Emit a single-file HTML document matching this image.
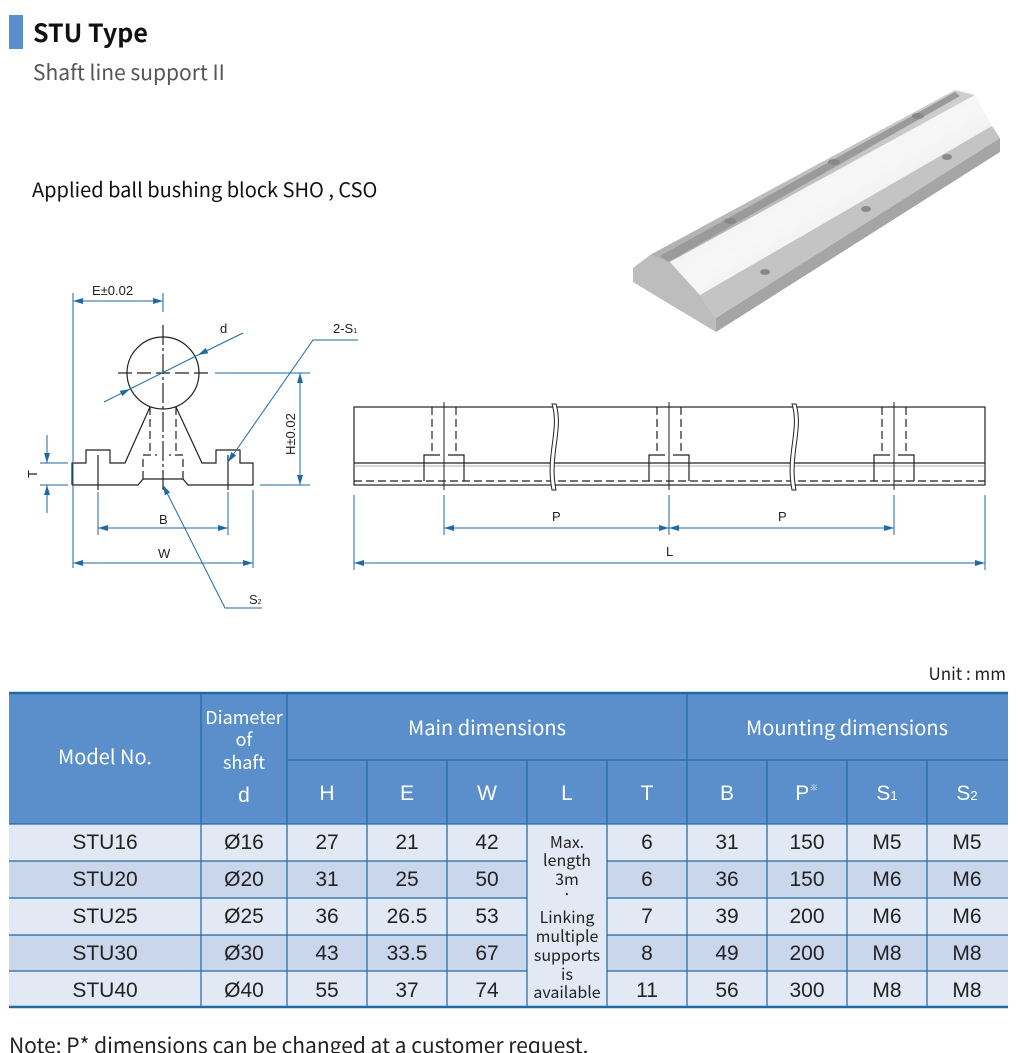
<!DOCTYPE html>
<html><head><meta charset="utf-8">
<style>
html,body{margin:0;padding:0;background:#fff;}
svg{display:block;}
.t{font-family:"Noto Sans CJK KR","Liberation Sans",sans-serif;}
.n{font-family:"Liberation Sans","NanumGothic",sans-serif;}
</style></head><body>
<svg width="1018" height="1053" viewBox="0 0 1018 1053" xmlns="http://www.w3.org/2000/svg">
<defs>
<marker id="a" viewBox="0 0 10 6" refX="10" refY="3" markerWidth="10" markerHeight="6" orient="auto-start-reverse" markerUnits="userSpaceOnUse"><path d="M0,0 L10,3 L0,6 z" fill="#1f6aa5"/></marker>
<linearGradient id="g1" x1="0" y1="0" x2="1" y2="1"><stop offset="0" stop-color="#e6e6e6"/><stop offset="0.5" stop-color="#f7f7f7"/><stop offset="1" stop-color="#d6d6d6"/></linearGradient>
<linearGradient id="g2" x1="0" y1="0" x2="1" y2="0"><stop offset="0" stop-color="#b0b0b0"/><stop offset="1" stop-color="#d0d0d0"/></linearGradient>
</defs>
<rect x="9" y="15" width="14" height="34" fill="#5b8fcc"/>
<text class="t" x="33" y="42" font-size="25" font-weight="bold" fill="#111">STU Type</text>
<text class="t" x="33" y="80" font-size="21" fill="#555">Shaft line support II</text>
<text class="t" x="32" y="197" font-size="20" fill="#111">Applied ball bushing block SHO , CSO</text>

<!-- 3D rail -->
<polygon points="633,268 650,255 670,262 700,295 716,318 716,332 633,282" fill="#bdbdbd"/>
<polygon points="650,255 955,90 975,95 670,262" fill="url(#g2)"/>
<polygon points="660,256 955,92 960,96 668,262" fill="#9a9a9a"/>
<polygon points="670,262 975,95 992,126 700,295" fill="url(#g1)"/>
<polygon points="700,295 992,126 1000,138 716,318" fill="#c4c4c4"/>
<polygon points="716,318 1000,138 1000,152 716,332" fill="#a5a5a5"/>
<ellipse cx="730" cy="221" rx="6" ry="3" fill="#888"/>
<ellipse cx="834" cy="162" rx="6" ry="3" fill="#888"/>
<ellipse cx="918" cy="116" rx="6" ry="3" fill="#888"/>
<ellipse cx="765" cy="272" rx="5" ry="3" fill="#888"/>
<ellipse cx="866" cy="209" rx="5" ry="3" fill="#888"/>
<ellipse cx="947" cy="157" rx="5" ry="3" fill="#888"/>

<!-- left drawing -->
<g fill="none" stroke="#222" stroke-width="1.2">
<circle cx="163" cy="373" r="36"/>
<path d="M72,485 V463 H86 V450 H110 V463 H125 L150,407"/>
<path d="M176,407 L202,463 H216 V450 H240 V463 H253 V485 H188 L183,479 H143 L138,485 H72"/>
<path d="M150,407 V455 M176,407 V455 M143,479 V455 H157 M183,479 V455 H169" stroke-dasharray="8,4"/>
<path d="M118,373 H213" stroke-dasharray="14,5"/>
<path d="M163,325 V490" stroke-dasharray="20,3,3,3"/>
<path d="M98,455 V490 M228,455 V490"/>
</g>
<g stroke="#1f6aa5" stroke-width="1" fill="none">
<path d="M73,293 V568 M163,293 V312 M253,490 V568 M98,492 V535 M228,492 V535 M215,373 H310 M260,485 H310 M40,463 H68 M40,485 H68"/>
<path d="M73,301 H163" marker-start="url(#a)" marker-end="url(#a)"/>
<path d="M73,563 H253" marker-start="url(#a)" marker-end="url(#a)"/>
<path d="M98,528 H228" marker-start="url(#a)" marker-end="url(#a)"/>
<path d="M300,373 V485" marker-start="url(#a)" marker-end="url(#a)"/>
<path d="M47,435 V463" marker-end="url(#a)"/>
<path d="M47,513 V485" marker-end="url(#a)"/>
<path d="M104,402 L130,389" marker-end="url(#a)"/>
<path d="M243,333 L198,355" marker-end="url(#a)"/>
<path d="M130,389 L198,355"/>
<path d="M358,340 H313 L228,462" marker-end="url(#a)"/>
<path d="M262,608 H225 L163,485" marker-end="url(#a)"/>
</g>
<g class="n" font-size="13" fill="#222">
<text x="92" y="295">E±0.02</text>
<text x="220" y="333">d</text>
<text x="333" y="333">2-S<tspan font-size="7">1</tspan></text>
<text x="159" y="524">B</text>
<text x="158" y="558">W</text>
<text x="249" y="604">S<tspan font-size="7">2</tspan></text>
<text x="37" y="478" transform="rotate(-90 37 478)">T</text>
<text x="295" y="455" transform="rotate(-90 295 455)">H±0.02</text>
</g>

<!-- right drawing -->
<g fill="none" stroke="#222" stroke-width="1.2">
<rect x="354" y="407" width="631" height="78"/>
<path d="M354,463 H985"/>
<path d="M354,466 H985" stroke="#999" stroke-width="0.8"/>
<path d="M354,481 H985" stroke-dasharray="8,4"/>
<path d="M432,407 V455 M456,407 V455 M657,407 V455 M681,407 V455 M882,407 V455 M906,407 V455" stroke-dasharray="8,4"/>
<path d="M424,481 V455 H440 M464,481 V455 H448 M649,481 V455 H665 M689,481 V455 H673 M874,481 V455 H890 M914,481 V455 H898"/>
<path d="M444,402 V490 M669,402 V490 M894,402 V490" stroke-width="1"/>
</g>
<path d="M552,404 C560,430 545,455 552,490 L556,490 C549,455 564,430 556,404 Z" fill="#fff" stroke="#222" stroke-width="1"/>
<path d="M792,404 C800,430 785,455 792,490 L796,490 C789,455 804,430 796,404 Z" fill="#fff" stroke="#222" stroke-width="1"/>
<g stroke="#1f6aa5" stroke-width="1" fill="none">
<path d="M354,495 V570 M985,495 V570 M444,495 V535 M669,495 V535 M894,495 V535"/>
<path d="M444,528 H669" marker-start="url(#a)" marker-end="url(#a)"/>
<path d="M669,528 H894" marker-start="url(#a)" marker-end="url(#a)"/>
<path d="M354,563 H985" marker-start="url(#a)" marker-end="url(#a)"/>
</g>
<g class="n" font-size="13" fill="#222">
<text x="552" y="521">P</text><text x="778" y="521">P</text><text x="666" y="556">L</text>
</g>

<!-- table -->
<text class="t" x="1006" y="680" font-size="17" fill="#222" text-anchor="end">Unit : mm</text>
<rect x="9" y="693" width="999" height="131" fill="#5b8fcc"/>
<g fill="#e2e8f4"><rect x="9" y="824" width="999" height="37"/><rect x="9" y="898" width="999" height="37"/><rect x="9" y="971" width="999" height="36"/></g>
<g fill="#c9d6ec"><rect x="9" y="861" width="999" height="37"/><rect x="9" y="935" width="999" height="36"/></g>
<rect x="527" y="824" width="80" height="183" fill="#e2e8f4"/>
<g stroke="#1f6aa5" stroke-width="1.2" fill="none">
<path d="M9,693 H1008 M9,1007 H1008" stroke-width="2.5"/>
<path d="M287,760 H1008 M9,824 H1008 M9,861 H527 M607,861 H1008 M9,898 H527 M607,898 H1008 M9,935 H527 M607,935 H1008 M9,971 H527 M607,971 H1008"/>
<path d="M201,693 V1007 M287,693 V1007 M687,693 V1007 M367,760 V1007 M447,760 V1007 M527,760 V1007 M607,760 V1007 M767,760 V1007 M847,760 V1007 M927,760 V1007"/>
</g>
<g class="t" fill="#fff" text-anchor="middle">
<text x="105" y="764" font-size="20">Model No.</text>
<text x="244" y="724" font-size="18">Diameter</text>
<text x="244" y="746" font-size="18">of</text>
<text x="244" y="769" font-size="18">shaft</text>
<text x="487" y="735" font-size="20">Main dimensions</text>
<text x="847" y="735" font-size="20">Mounting dimensions</text>
</g>
<g class="n" fill="#fff" text-anchor="middle" font-size="21">
<text x="244" y="802">d</text>
<text x="327" y="800">H</text><text x="407" y="800">E</text><text x="487" y="800">W</text><text x="567" y="800">L</text><text x="647" y="800">T</text>
<text x="727" y="800">B</text><text x="807" y="800">P<tspan font-size="10" dy="-9">※</tspan></text>
<text x="887" y="800">S<tspan font-size="13">1</tspan></text><text x="967" y="800">S<tspan font-size="13">2</tspan></text>
</g>
<g class="n" fill="#222" text-anchor="middle" font-size="21">
<text x="105" y="849">STU16</text><text x="244" y="849">Ø16</text><text x="327" y="849">27</text><text x="407" y="849">21</text><text x="487" y="849">42</text><text x="647" y="849">6</text><text x="727" y="849">31</text><text x="807" y="849">150</text><text x="887" y="849">M5</text><text x="967" y="849">M5</text>
<text x="105" y="886">STU20</text><text x="244" y="886">Ø20</text><text x="327" y="886">31</text><text x="407" y="886">25</text><text x="487" y="886">50</text><text x="647" y="886">6</text><text x="727" y="886">36</text><text x="807" y="886">150</text><text x="887" y="886">M6</text><text x="967" y="886">M6</text>
<text x="105" y="923">STU25</text><text x="244" y="923">Ø25</text><text x="327" y="923">36</text><text x="407" y="923">26.5</text><text x="487" y="923">53</text><text x="647" y="923">7</text><text x="727" y="923">39</text><text x="807" y="923">200</text><text x="887" y="923">M6</text><text x="967" y="923">M6</text>
<text x="105" y="960">STU30</text><text x="244" y="960">Ø30</text><text x="327" y="960">43</text><text x="407" y="960">33.5</text><text x="487" y="960">67</text><text x="647" y="960">8</text><text x="727" y="960">49</text><text x="807" y="960">200</text><text x="887" y="960">M8</text><text x="967" y="960">M8</text>
<text x="105" y="997">STU40</text><text x="244" y="997">Ø40</text><text x="327" y="997">55</text><text x="407" y="997">37</text><text x="487" y="997">74</text><text x="647" y="997">11</text><text x="727" y="997">56</text><text x="807" y="997">300</text><text x="887" y="997">M8</text><text x="967" y="997">M8</text>
</g>
<g class="t" fill="#222" text-anchor="middle" font-size="16">
<text x="567" y="848">Max.</text><text x="567" y="866">length</text><text x="567" y="885">3m</text><text x="567" y="900">·</text>
<text x="567" y="923">Linking</text><text x="567" y="942">multiple</text><text x="567" y="961">supports</text><text x="567" y="980">is</text><text x="567" y="998">available</text>
</g>
<text class="t" x="9" y="1053" font-size="21" fill="#222">Note: P* dimensions can be changed at a customer request.</text>
</svg>
</body></html>
